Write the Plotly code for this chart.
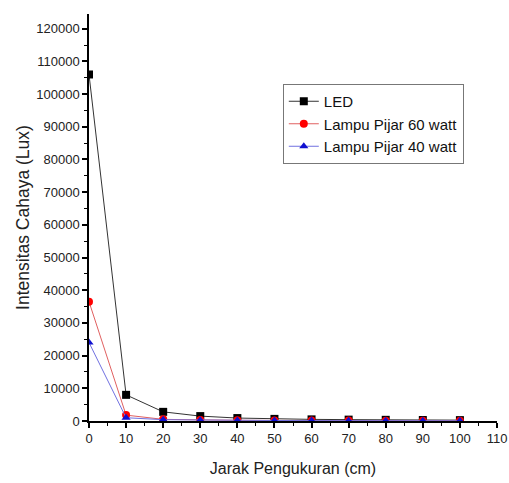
import plotly.graph_objects as go

jarak = [0, 10, 20, 30, 40, 50, 60, 70, 80, 90, 100]
led = [106000, 8000, 2800, 1500, 900, 650, 500, 420, 360, 310, 270]
pijar_60 = [36500, 1800, 500, 300, 220, 180, 150, 130, 110, 100, 90]
pijar_40 = [24000, 1000, 400, 250, 180, 150, 120, 100, 90, 80, 70]

x_ticks = list(range(0, 111, 10))
y_ticks = list(range(0, 120001, 10000))
y_labels = [str(v) for v in y_ticks]

fig = go.Figure()
fig.add_trace(go.Scatter(
    x=jarak, y=led, name="LED", mode="lines+markers",
    line=dict(color="#333333", width=1),
    marker=dict(symbol="square", size=8, color="black"),
))
fig.add_trace(go.Scatter(
    x=jarak, y=pijar_60, name="Lampu Pijar 60 watt", mode="lines+markers",
    line=dict(color="#e06060", width=1),
    marker=dict(symbol="circle", size=8, color="red"),
))
fig.add_trace(go.Scatter(
    x=jarak, y=pijar_40, name="Lampu Pijar 40 watt", mode="lines+markers",
    line=dict(color="#7070e0", width=1),
    marker=dict(symbol="triangle-up", size=8, color="#1010d0"),
))

axis_common = dict(
    showgrid=False, zeroline=False, showline=True, linecolor="black", linewidth=1.5,
    ticks="outside", ticklen=5, tickwidth=1.5, tickcolor="black",
    minor=dict(ticks="outside", ticklen=3, tickcolor="black", tickwidth=1),
    tickfont=dict(family="Liberation Sans, Arial", size=13, color="#222222"),
    automargin=False,
)

fig.update_xaxes(
    range=[0, 110], tickvals=x_ticks, minor_dtick=5,
    title=dict(text="Jarak Pengukuran (cm)", font=dict(family="Liberation Sans, Arial", size=16, color="#222222"), standoff=17),
    **axis_common,
)
fig.update_yaxes(
    range=[0, 124500], tickvals=y_ticks, ticktext=y_labels, minor_dtick=5000,
    title=dict(text="Intensitas Cahaya (Lux)", font=dict(family="Liberation Sans, Arial", size=17.5, color="#222222"), standoff=2),
    **axis_common,
)

fig.update_layout(
    width=509, height=483,
    margin=dict(l=89, r=12, t=14, b=62),
    plot_bgcolor="white", paper_bgcolor="white",
    legend=dict(
        x=0.475, y=0.828, xanchor="left", yanchor="top",
        bordercolor="#777777", borderwidth=1, bgcolor="white",
        font=dict(family="Liberation Sans, Arial", size=15, color="#111111"),
        tracegroupgap=0, itemwidth=30,
    ),
)

fig.write_html("out.html")
